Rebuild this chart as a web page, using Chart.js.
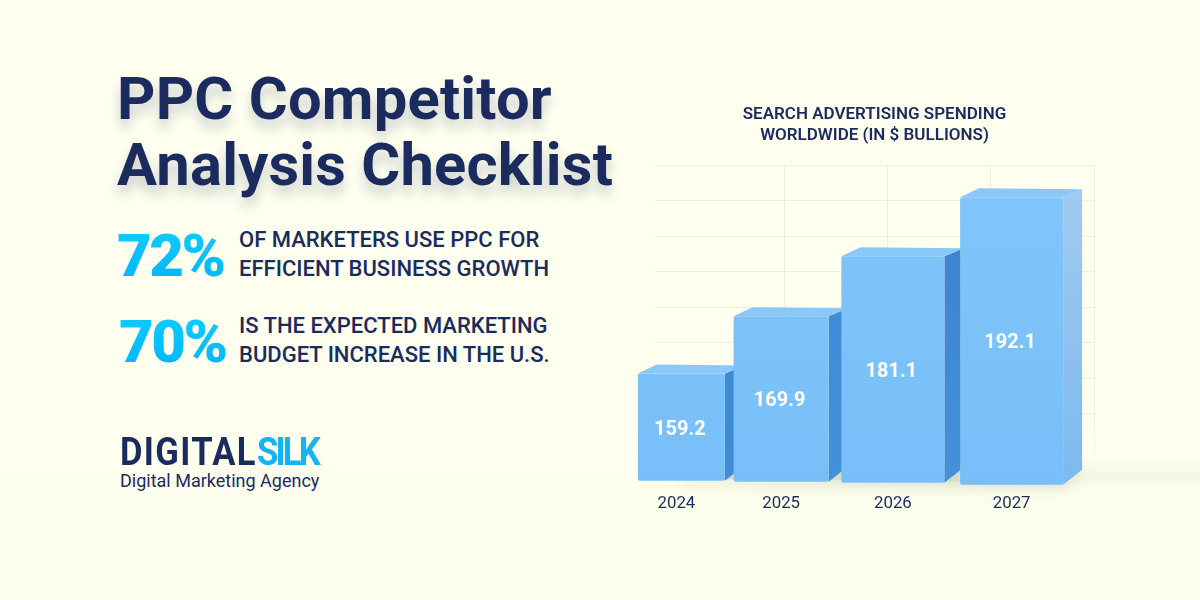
<!DOCTYPE html>
<html>
<head>
<meta charset="utf-8">
<script src="https://cdn.jsdelivr.net/npm/chart.js@4/dist/chart.umd.min.js"></script>
<style>
html, body { margin: 0; padding: 0; }
body { width: 1200px; height: 600px; overflow: hidden; position: relative; font-family: Roboto, sans-serif; color: #1b2b5e;
    background: linear-gradient(180deg, #feffef 0%, #feffef 78%, #fbfeec 90%, #fcfeee 100%); }
div { position: absolute; white-space: nowrap; }
#floor { left: 1050px; top: 458px; width: 150px; height: 32px;
    background: linear-gradient(180deg, rgba(205,215,180,0) 0%, rgba(205,215,180,0.2) 55%, rgba(205,215,180,0) 100%); }
#chartBox { left: 620px; top: 90px; width: 510px; height: 440px; }
#heading { left: 117px; top: 66px; font-size: 59.7px; font-weight: 700; line-height: 66px; letter-spacing: 0.2px; text-shadow: 0 9px 12px rgba(27,43,94,0.22); }
.stat { font-size: 60px; font-weight: 900; line-height: 62px; letter-spacing: -2.5px;
    background: linear-gradient(180deg, #10ccff 0%, #00b4ff 100%); -webkit-background-clip: text; background-clip: text; color: transparent; }
.note { left: 239px; font-size: 22px; font-weight: 500; line-height: 29px; }
#logo { left: 120px; top: 432px; font-size: 38px; font-weight: 700; line-height: 40px; letter-spacing: 1.5px; transform: scaleX(0.91); transform-origin: left top; }
#logo span { color: #14b4f0; letter-spacing: -3px; }
#tag { left: 120px; top: 470px; font-size: 18px; line-height: 22px; }
</style>
</head>
<body>
<div id="heading">PPC Competitor<br>Analysis Checklist</div>
<div class="stat" style="left:117px;top:225px">72%</div>
<div class="note" style="top:225px">OF MARKETERS USE PPC FOR<br>EFFICIENT BUSINESS GROWTH</div>
<div class="stat" style="left:119px;top:311px">70%</div>
<div class="note" style="top:311px">IS THE EXPECTED MARKETING<br>BUDGET INCREASE IN THE U.S.</div>
<div id="logo">DIGITAL<span>SILK</span></div>
<div id="tag">Digital Marketing Agency</div>
<div id="floor"></div>
<div id="chartBox"><canvas id="myChart" width="510" height="440"></canvas></div>
<script>
const years = ['2024', '2025', '2026', '2027'];
const spending = [159.2, 169.9, 181.1, 192.1];
const chartTitle = ['SEARCH ADVERTISING SPENDING', 'WORLDWIDE (IN $ BULLIONS)'];

// the picture is in perspective, so bars are not evenly placed or sized
const barShift = [-28.5, -38.5, -36.5, -27.5];
const labelShift = [-5, 0, 0, 0];
const barWidths = [87, 95, 103, 103];
const baseDrop = [-1, 0, 1, 3];
const sideTop = ['#3f8bd6', '#3f8bd6', '#3d86cf', '#9fcaef'];
const sideBottom = ['#3f8bd6', '#4490da', '#4490da', '#7db9ee'];

class PerspectiveCategory extends Chart.CategoryScale {
    getPixelForValue(value, index) {
        const px = super.getPixelForValue(value, index);
        const i = typeof value === 'number' ? value : this.parse(value);
        return px + (barShift[i] || 0);
    }
    getPixelForTick(index) {
        const tick = this.ticks[index];
        if (!tick) return null;
        return this.getPixelForValue(tick.value) + (labelShift[index] || 0);
    }
}
PerspectiveCategory.id = 'perspectiveCategory';
PerspectiveCategory.defaults = Chart.CategoryScale.defaults;
Chart.register(PerspectiveCategory);

function polygon(ctx, pts, color) {
    ctx.fillStyle = color;
    ctx.beginPath();
    pts.forEach((p, i) => i ? ctx.lineTo(p[0], p[1]) : ctx.moveTo(p[0], p[1]));
    ctx.closePath();
    ctx.fill();
}

const boxFaces = {
    id: 'boxFaces',
    afterDatasetsUpdate(chart) {
        chart.getDatasetMeta(0).data.forEach((bar, i) => {
            bar.width = barWidths[i];
            bar.base += baseDrop[i];
        });
    },
    beforeDatasetsDraw(chart) {
        const ctx = chart.ctx;
        const bars = chart.getDatasetMeta(0).data;
        const dx = 19, topDy = 8, bottomDy = 15;
        ctx.save();
        // soft shadow on the floor under the row of boxes
        const first = bars[0], last = bars[bars.length - 1];
        ctx.shadowColor = 'rgba(130,140,100,0.5)';
        ctx.shadowBlur = 18;
        polygon(ctx, [[first.x, first.base - 6], [last.x + last.width / 2 + dx - 2, last.base - 16],
            [last.x + last.width / 2 - 2, last.base - 2], [first.x, first.base - 2]], '#d5dfc4');
        ctx.shadowBlur = 0;
        ctx.shadowColor = 'transparent';
        bars.forEach((bar, i) => {
            const l = bar.x - bar.width / 2, r = bar.x + bar.width / 2;
            const side = ctx.createLinearGradient(0, bar.y, 0, bar.base);
            side.addColorStop(0, sideTop[i]);
            side.addColorStop(1, sideBottom[i]);
            polygon(ctx, [[r, bar.y], [r + dx, bar.y - topDy], [r + dx, bar.base - bottomDy], [r, bar.base]], side);
            polygon(ctx, [[l, bar.y], [l + dx, bar.y - topDy - 1], [r + dx, bar.y - topDy], [r, bar.y]], '#8ac8f9');
        });
        ctx.restore();
    },
    afterDatasetsDraw(chart) {
        const ctx = chart.ctx;
        ctx.save();
        ctx.fillStyle = '#ffffff';
        ctx.font = '700 20px Roboto';
        ctx.textAlign = 'center';
        ctx.textBaseline = 'middle';
        chart.getDatasetMeta(0).data.forEach((bar, i) => {
            ctx.fillText(spending[i].toFixed(1), bar.x - 1.5, (bar.y + bar.base) / 2 + 2.5);
        });
        ctx.restore();
    }
};

const canvasCtx = document.getElementById('myChart').getContext('2d');
const frontFill = canvasCtx.createLinearGradient(0, 100, 0, 395);
frontFill.addColorStop(0, '#80c6fb');
frontFill.addColorStop(1, '#78bef8');
// grid fades out towards the floor
const gridFade = canvasCtx.createLinearGradient(0, 75, 0, 378);
gridFade.addColorStop(0, '#eeeee0');
gridFade.addColorStop(0.85, '#eeeee0');
gridFade.addColorStop(1, 'rgba(238,238,224,0)');

new Chart(document.getElementById('myChart'), {
    type: 'bar',
    plugins: [boxFaces],
    data: {
        labels: years,
        datasets: [{
            data: spending,
            xAxisID: 'x',
            base: 139,
            clip: false,
            backgroundColor: frontFill,
            borderRadius: 2,
            borderSkipped: false,
            borderWidth: 0
        }]
    },
    options: {
        responsive: false,
        animation: false,
        devicePixelRatio: 1,
        layout: { padding: { left: 35, right: 36, top: 0, bottom: 15 } },
        plugins: {
            legend: { display: false },
            tooltip: { enabled: false },
            title: {
                display: true,
                text: chartTitle,
                color: '#1b2b5e',
                font: { family: 'Roboto', size: 17, weight: '600', lineHeight: 1.24 },
                padding: { top: 14, bottom: 19 }
            }
        },
        scales: {
            x: {
                type: 'perspectiveCategory',
                position: 'bottom',
                grid: { display: false },
                border: { display: false },
                ticks: { color: '#1b2b5e', font: { family: 'Roboto', size: 16.8 }, padding: 1, maxRotation: 0 }
            },
            gridX: {
                type: 'linear',
                axis: 'x',
                position: 'top',
                min: -0.25,
                max: 4,
                offset: false,
                border: { display: false },
                grid: {
                    offset: false,
                    drawTicks: false,
                    color: (c) => (c.tick && Number.isInteger(c.tick.value)) ? gridFade : 'transparent'
                },
                ticks: { display: false, stepSize: 1 }
            },
            y: {
                min: 138.4,
                max: 198.1,
                border: { display: false },
                grid: {
                    drawTicks: false,
                    color: (c) => (c.index >= 2) ? '#eeeee0' : 'transparent'
                },
                ticks: { display: false, count: 10 }
            }
        }
    }
});
</script>
</body>
</html>
